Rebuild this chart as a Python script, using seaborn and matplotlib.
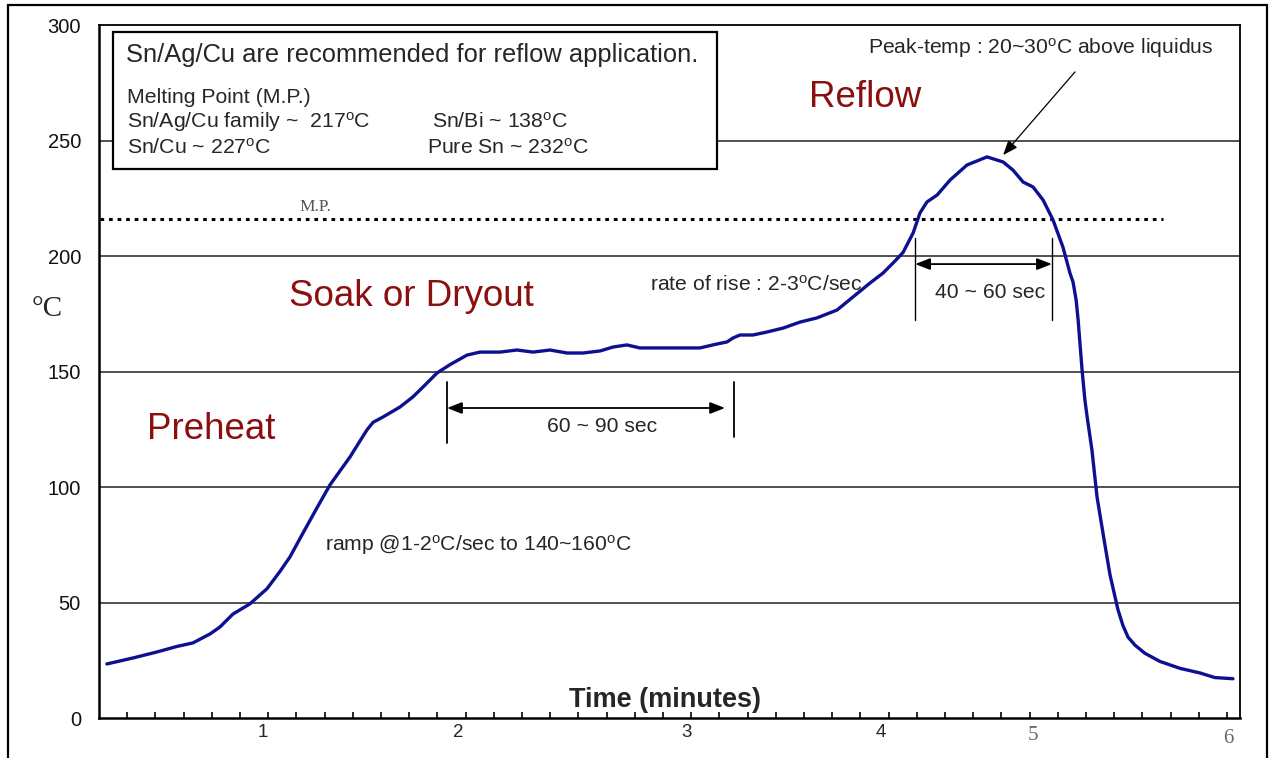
import matplotlib
matplotlib.use("Agg")
import matplotlib.pyplot as plt
from matplotlib.patches import Rectangle
import seaborn as sns
import pandas as pd

# Reflow profile: time (s) and board temperature (°C)
time_s = [2.8, 12.1, 20.6, 27.7, 33.3, 39.4, 42.9, 47.5, 53.5, 59.6, 64.2, 67.7,
          72.3, 77.3, 81.9, 89.0, 95.0, 97.2, 100.7, 106.7, 111.3, 114.9, 119.9,
          124.5, 130.5, 135.1, 142.2, 148.2, 153.9, 159.9, 166.0, 171.6, 177.7,
          182.3, 187.2, 191.8, 201.4, 213.1, 219.1, 222.7, 224.8, 227.3, 231.9,
          236.9, 242.6, 248.6, 254.6, 261.7, 267.4, 273.4, 278.0, 281.6, 285.1,
          288.7, 291.1, 293.6, 297.2, 301.8, 307.8, 314.9, 320.6, 324.1, 327.7,
          331.2, 334.8, 338.3, 341.8, 344.3, 345.4, 346.5, 347.2, 347.9, 348.6,
          349.6, 350.4, 352.1, 353.9, 356.7, 358.5, 361.3, 363.1, 364.9, 367.4,
          370.9, 376.2, 383.3, 390.4, 395.7, 402.1]
temp_c = [23.4, 26.0, 28.6, 31.0, 32.5, 36.4, 39.4, 45.0, 49.4, 56.0, 63.5, 69.7,
          80.0, 91.0, 100.9, 113.0, 124.7, 128.0, 130.3, 134.6, 139.0, 143.3, 149.4,
          153.0, 157.1, 158.4, 158.4, 159.3, 158.4, 159.3, 158.0, 158.0, 158.9,
          160.6, 161.5, 160.2, 160.2, 160.2, 161.9, 162.8, 164.5, 165.8, 165.8,
          167.1, 168.8, 171.4, 173.2, 176.6, 182.3, 188.3, 192.6, 197.0, 201.5,
          210.0, 218.6, 223.4, 226.4, 232.9, 239.4, 242.9, 240.7, 237.2, 232.0,
          229.9, 224.2, 215.6, 203.9, 192.6, 188.7, 180.9, 172.3, 161.5, 150.6,
          137.7, 130.3, 116.0, 95.7, 75.0, 62.0, 47.0, 40.0, 35.0, 31.5,
          28.0, 24.5, 21.5, 19.5, 17.5, 17.0]

# Axis labelling
minute_labels = ["1", "2", "3", "4", "5", "6"]
minute_label_pos = [58.2, 127.3, 208.2, 277.3, 331.2, 400.4]
minor_tick_pos = list(range(10, 401, 10))
temp_ticks = [0, 50, 100, 150, 200, 250, 300]
melting_point = 216

sns.set_style("white")
plt.rcParams["font.family"] = ["Liberation Sans", "DejaVu Sans"]
plt.rcParams["mathtext.fontset"] = "custom"
plt.rcParams["mathtext.rm"] = "Liberation Sans"
plt.rcParams["mathtext.it"] = "Liberation Sans:italic"

W, H = 1271, 758
fig = plt.figure(figsize=(W / 100, H / 100), dpi=100)
ax = fig.add_axes([99 / W, 1 - 718 / H, (1240 - 99) / W, (718 - 25) / H])
ax.set_xlim(0, 404.6)
ax.set_ylim(0, 300)

# outer frame around the whole figure
fig.patches.append(Rectangle((8 / W, -0.05), (1267 - 8) / W, 1 - 5 / H + 0.05,
                             transform=fig.transFigure, fill=False,
                             edgecolor="black", linewidth=1.6, zorder=0))

# horizontal guide lines
for v in temp_ticks[1:-1]:
    ax.axhline(v, color="#222222", linewidth=1.1, zorder=1)

df = pd.DataFrame({"time": time_s, "temp": temp_c})
sns.lineplot(data=df, x="time", y="temp", color="#0d1190", linewidth=2.4,
             ax=ax, zorder=5, sort=False)

# melting point line
ax.plot([0.5, 377.3], [melting_point, melting_point], color="black",
        linewidth=2.2, linestyle=(0, (1.2, 1.6)), dash_capstyle="butt", zorder=4)
ax.text(76.6, melting_point + 5, "M.P.", family="Liberation Serif",
        fontsize=12.5, color="#555555", ha="center", va="center")

# spines and ticks
for side in ["left", "bottom"]:
    ax.spines[side].set_linewidth(1.8)
for side in ["top", "right"]:
    ax.spines[side].set_linewidth(1.3)
for s in ax.spines.values():
    s.set_color("black")
    s.set_zorder(6)

ax.set_yticks(temp_ticks)
ax.set_yticklabels([str(v) for v in temp_ticks])
ax.tick_params(axis="y", length=0, pad=13, labelsize=14.5, labelcolor="#111111")
ax.set_xticks(minute_label_pos)
ax.set_xticklabels(minute_labels)
ax.set_xticks(minor_tick_pos, minor=True)
ax.tick_params(axis="x", which="major", length=0, pad=4, labelsize=13.5)
ax.tick_params(axis="x", which="minor", direction="in", length=4, width=1.2,
               color="black", bottom=True)
for lab in ax.get_xticklabels()[4:]:
    lab.set_family("Liberation Serif")
    lab.set_color("#666666")
    lab.set_fontsize(15)
ax.get_xticklabels()[4].set_y(-0.004)
ax.get_xticklabels()[5].set_y(-0.008)
ax.set_xlabel("")
ax.set_ylabel("")

ax.text(200.7, 7.8, "Time (minutes)", fontsize=19.5, fontweight="bold",
        ha="center", va="center", zorder=7)
ax.text(-18.5, 177, "°C", family="Liberation Serif", fontsize=21,
        ha="center", va="center", transform=ax.transData, clip_on=False)

# info box
ax.add_patch(Rectangle((4.96, 237.7), 214.1, 59.3, facecolor="white",
                       edgecolor="black", linewidth=1.6, zorder=3))
sup = r"$^{\mathrm{o}}$"
box_fs = 15.3
ax.text(9.6, 287.0, "Sn/Ag/Cu are recommended for reflow application.",
        fontsize=18.4, ha="left", va="center", zorder=4)
ax.text(9.9, 268.8, "Melting Point (M.P.)", fontsize=box_fs, ha="left",
        va="center", zorder=4)
ax.text(9.9, 258.0, "Sn/Ag/Cu family ~  217" + sup + "C", fontsize=box_fs,
        ha="left", va="center", zorder=4)
ax.text(118.1, 258.0, "Sn/Bi ~ 138" + sup + "C", fontsize=box_fs, ha="left",
        va="center", zorder=4)
ax.text(9.9, 246.8, "Sn/Cu ~ 227" + sup + "C", fontsize=box_fs, ha="left",
        va="center", zorder=4)
ax.text(116.3, 246.8, "Pure Sn ~ 232" + sup + "C", fontsize=box_fs, ha="left",
        va="center", zorder=4)

# zone names
zone_color = "#8b0f0f"
ax.text(39.7, 124.7, "Preheat", fontsize=26.5, color=zone_color, ha="center", va="center")
ax.text(110.6, 182.3, "Soak or Dryout", fontsize=26.5, color=zone_color, ha="center", va="center")
ax.text(271.6, 268.8, "Reflow", fontsize=26.5, color=zone_color, ha="center", va="center")

# annotations
note_fs = 15.2
ax.text(80.1, 74.9, "ramp @1-2" + sup + "C/sec to 140~160" + sup + "C",
        fontsize=note_fs, ha="left", va="center")
ax.text(195.4, 187.4, "rate of rise : 2-3" + sup + "C/sec", fontsize=note_fs,
        ha="left", va="center")
ax.text(272.7, 290.0, "Peak-temp : 20~30" + sup + "C above liquidus",
        fontsize=note_fs, ha="left", va="center")
ax.annotate("", xy=(320.6, 243.7), xytext=(346.1, 279.7),
            arrowprops=dict(arrowstyle="-|>,head_length=0.9,head_width=0.35",
                            color="black", linewidth=0.9, shrinkA=0, shrinkB=0))

# soak duration
ax.plot([123.4, 123.4], [119.0, 145.5], color="black", linewidth=1.3)
ax.plot([225.2, 225.2], [121.6, 145.5], color="black", linewidth=1.3)
ax.annotate("", xy=(222.0, 134.2), xytext=(123.4, 134.2),
            arrowprops=dict(arrowstyle="<|-|>,head_length=0.9,head_width=0.35",
                            color="black", linewidth=1.3, shrinkA=0, shrinkB=0))
ax.text(178.5, 126.0, "60 ~ 90 sec", fontsize=note_fs, ha="center", va="center")

# time above liquidus
ax.plot([289.4, 289.4], [172.3, 207.8], color="black", linewidth=1.0)
ax.plot([337.9, 337.9], [172.3, 207.8], color="black", linewidth=1.0)
ax.annotate("", xy=(337.9, 196.5), xytext=(289.4, 196.5),
            arrowprops=dict(arrowstyle="<|-|>,head_length=0.9,head_width=0.35",
                            color="black", linewidth=1.3, shrinkA=0, shrinkB=0))
ax.text(316.0, 184.0, "40 ~ 60 sec", fontsize=note_fs, ha="center", va="center")

fig.savefig("out.png", dpi=100)
